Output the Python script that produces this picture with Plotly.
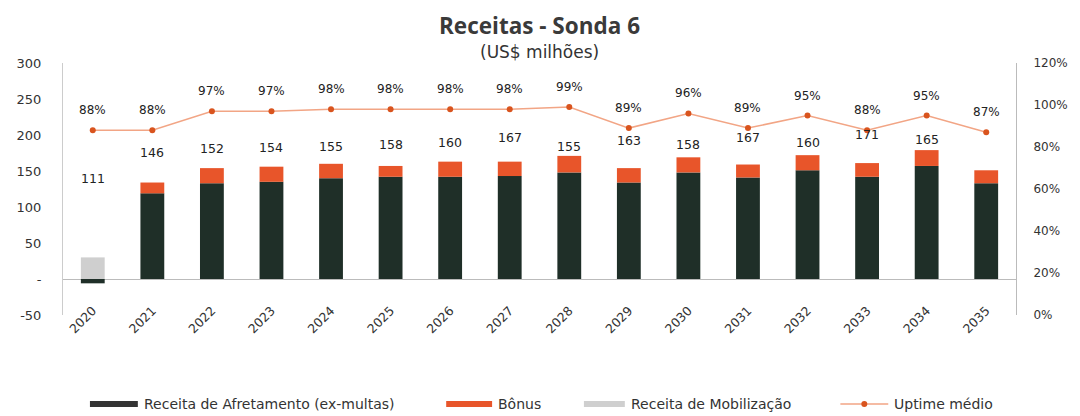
import plotly.graph_objects as go

years = [str(y) for y in range(2020, 2036)]
charter = [-6, 119, 133, 135, 140, 142, 142, 143, 148, 134, 148, 141, 151, 142, 157, 133]
bonus = [0, 15, 21, 21, 20, 15, 21, 20, 23, 20, 21, 18, 21, 19, 22, 18]
mobilization = [30, 0, 0, 0, 0, 0, 0, 0, 0, 0, 0, 0, 0, 0, 0, 0]
uptime = [0.88, 0.88, 0.97, 0.97, 0.98, 0.98, 0.98, 0.98, 0.99, 0.89, 0.96, 0.89, 0.95, 0.88, 0.95, 0.87]
total_labels = [111, 146, 152, 154, 155, 158, 160, 167, 155, 163, 158, 167, 160, 171, 165, None]

left_tickvals = [-50, 0, 50, 100, 150, 200, 250, 300]
left_ticktext = ["-50", "-", "50", "100", "150", "200", "250", "300"]
right_tickvals = [0, 0.2, 0.4, 0.6, 0.8, 1.0, 1.2]
right_ticktext = ["0%", "20%", "40%", "60%", "80%", "100%", "120%"]

C_DARK = "#1f2f28"
C_ORANGE = "#e8552a"
C_GRAY = "#cfcfcf"
C_LINE = "#f2a585"
C_MARK = "#d9541e"
FONT = "DejaVu Sans"
TFONT = "Open Sans"

PL, PR, PT, PB = 63, 1018, 63, 315  # plot area in pixels
W, H = 1080, 416

fig = go.Figure()
fig.add_trace(go.Bar(x=years, y=charter, name="Receita de Afretamento (ex-multas)",
                     marker=dict(color=C_DARK, line=dict(width=0)), showlegend=False))
fig.add_trace(go.Bar(x=years, y=bonus, name="Bônus",
                     marker=dict(color=C_ORANGE, line=dict(width=0)), showlegend=False))
fig.add_trace(go.Bar(x=years, y=mobilization, name="Receita de Mobilização",
                     marker=dict(color=C_GRAY, line=dict(width=0)), showlegend=False))
fig.add_trace(go.Scatter(x=years, y=uptime, yaxis="y2", name="Uptime médio",
                         mode="lines+markers",
                         line=dict(color=C_LINE, width=1.5),
                         marker=dict(color=C_MARK, size=6), showlegend=False))

annotations = []
for i, v in enumerate(total_labels):
    if v is None:
        continue
    annotations.append(dict(x=i, y=v, xref="x", yref="y", text=str(v), showarrow=False,
                            yshift=21, font=dict(family=FONT, size=12.5, color="#222")))
for i, u in enumerate(uptime):
    annotations.append(dict(x=i, y=u, xref="x", yref="y2", text=f"{round(u*100)}%",
                            showarrow=False, yshift=20,
                            font=dict(family=FONT, size=12, color="#222")))

annotations.append(dict(x=0.5, y=1.0, xref="paper", yref="paper", yanchor="middle",
                        yshift=38, text="<b>Receitas - Sonda 6</b>", showarrow=False,
                        font=dict(family=TFONT, size=22.5, color="#3a3a3a")))
annotations.append(dict(x=0.5, y=1.0, xref="paper", yref="paper", yanchor="middle",
                        yshift=11, text="(US$ milhões)", showarrow=False,
                        font=dict(family=FONT, size=17, color="#333")))

# custom legend
shapes = []
legend_items = [
    ("Receita de Afretamento (ex-multas)", 90, 138, "#333333", 6, "bar"),
    ("Bônus", 447, 493, C_ORANGE, 6, "bar"),
    ("Receita de Mobilização", 585, 626, C_GRAY, 6, "bar"),
    ("Uptime médio", 842, 890, C_LINE, 1.5, "line"),
]
LEG_Y = 404

def px(xp):
    return (xp - PL) / (PR - PL)

def py(yp):
    return (PB - yp) / (PB - PT)

for label, x0, x1, col, th, kind in legend_items:
    if kind == "bar":
        shapes.append(dict(type="rect", xref="paper", yref="paper",
                           x0=px(x0), x1=px(x1),
                           y0=py(LEG_Y + th / 2), y1=py(LEG_Y - th / 2),
                           fillcolor=col, line=dict(width=0)))
    else:
        shapes.append(dict(type="line", xref="paper", yref="paper",
                           x0=px(x0), x1=px(x1), y0=py(LEG_Y), y1=py(LEG_Y),
                           line=dict(color=col, width=1.5)))
        xm = (x0 + x1) / 2
        shapes.append(dict(type="circle", xref="paper", yref="paper",
                           x0=px(xm - 3), x1=px(xm + 3), y0=py(LEG_Y + 3), y1=py(LEG_Y - 3),
                           fillcolor=C_MARK, line=dict(width=0)))
    annotations.append(dict(x=px(x1 + 4), y=py(LEG_Y),
                            xref="paper", yref="paper", xanchor="left", yanchor="middle",
                            text=label, showarrow=False,
                            font=dict(family=FONT, size=14, color="#333")))

fig.update_layout(
    width=W, height=H,
    barmode="relative",
    bargap=0.6,
    plot_bgcolor="white", paper_bgcolor="white",
    margin=dict(l=PL, r=W - PR, t=PT, b=H - PB),
    font=dict(family=FONT, size=13, color="#333"),
    xaxis=dict(type="category", tickangle=-45, showgrid=False, showline=False,
               range=[-0.5, 15.5], ticks="", anchor="free", position=py(300),
               tickfont=dict(family=FONT, size=12.5, color="#333")),
    yaxis=dict(range=[-50, 300], tickvals=left_tickvals, ticktext=left_ticktext,
               showgrid=False, showline=True, linecolor="#cccccc", linewidth=1,
               zeroline=True, zerolinecolor="#bbbbbb", zerolinewidth=1,
               ticks="", ticklabelstandoff=18,
               tickfont=dict(family=FONT, size=13, color="#333")),
    yaxis2=dict(range=[0, 1.2], tickvals=right_tickvals, ticktext=right_ticktext,
                overlaying="y", side="right", showgrid=False, showline=True,
                linecolor="#bbbbbb", linewidth=1, zeroline=False, ticks="",
                ticklabelstandoff=14,
                tickfont=dict(family=FONT, size=12, color="#333")),
    annotations=annotations,
    shapes=shapes,
)

fig.write_html("out.html", config={"displayModeBar": False},
               post_script="document.body.style.margin='0';document.body.style.overflow='hidden';")
